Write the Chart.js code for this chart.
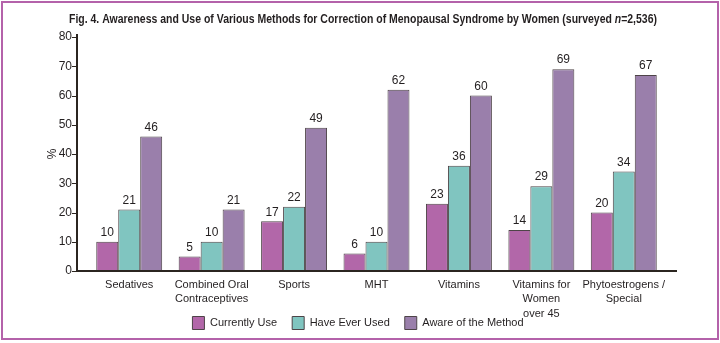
<!DOCTYPE html>
<html>
<head>
<meta charset="utf-8">
<script src="https://cdn.jsdelivr.net/npm/chart.js@4.4.1/dist/chart.umd.min.js"></script>
<style>
  html, body { margin: 0; padding: 0; background: #fff; }
  #wrap { position: relative; width: 720px; height: 343px; }
  #frame { position: absolute; left: 1px; top: 1px; width: 718px; height: 339px; box-sizing: border-box; border: 2px solid #b462aa; }
  canvas { position: absolute; left: 0; top: 0; }
</style>
</head>
<body>
<div id="wrap">
  <div id="frame"></div>
  <canvas id="chart" width="720" height="343"></canvas>
</div>
<script>
// Categories (multi-line labels as arrays)
const categories = [
    'Sedatives',
    ['Combined Oral', 'Contraceptives'],
    'Sports',
    'MHT',
    'Vitamins',
    ['Vitamins for', 'Women', 'over 45'],
    ['Phytoestrogens /', 'Special']
];

// Series values, %
const currentlyUse = [10, 5, 17, 6, 23, 14, 20];
const haveEverUsed = [21, 10, 22, 10, 36, 29, 34];
const awareOfMethod = [46, 21, 49, 62, 60, 69, 67];

// Y axis ticks
const yTicks = [0, 10, 20, 30, 40, 50, 60, 70, 80];

const FONT = "'Liberation Sans', Arial, sans-serif";
const TEXT = '#231f20';
const AXIS = '#2b2520';

// Title with italic n; the source face is condensed, so squeeze it to width
const titlePlugin = {
    id: 'figTitle',
    afterDraw(chart) {
        const ctx = chart.ctx;
        const parts = [
            ['Fig. 4. Awareness and Use of Various Methods for Correction of Menopausal Syndrome by Women (surveyed ', 'bold'],
            ['n', 'italic bold'],
            ['=2,536)', 'bold']
        ];
        ctx.save();
        let total = 0;
        parts.forEach(p => {
            ctx.font = p[1] + ' 12.5px ' + FONT;
            total += ctx.measureText(p[0]).width;
        });
        const k = 588 / total;
        ctx.translate(363 - 294, 20);
        ctx.scale(k, 1);
        ctx.fillStyle = TEXT;
        ctx.textBaseline = 'middle';
        let x = 0;
        parts.forEach(p => {
            ctx.font = p[1] + ' 12.5px ' + FONT;
            ctx.fillText(p[0], x, 0);
            x += ctx.measureText(p[0]).width;
        });
        ctx.restore();
    }
};

// Axis lines sit a little outside the category area
const axesPlugin = {
    id: 'axesLines',
    afterDatasetsDraw(chart) {
        const ctx = chart.ctx;
        const area = chart.chartArea;
        const y = chart.scales.y;
        const x0 = area.left - 11;
        ctx.save();
        ctx.strokeStyle = AXIS;
        ctx.lineWidth = 2;
        ctx.beginPath();
        ctx.moveTo(x0, area.top - 3);
        ctx.lineTo(x0, area.bottom + 1);
        ctx.moveTo(x0 - 1, area.bottom);
        ctx.lineTo(area.right + 12, area.bottom);
        ctx.stroke();
        ctx.lineWidth = 1;
        ctx.beginPath();
        yTicks.forEach(v => {
            const py = Math.round(y.getPixelForValue(v)) + 0.5;
            ctx.moveTo(x0 - 5, py);
            ctx.lineTo(x0, py);
        });
        ctx.stroke();
        ctx.restore();
    }
};

// Value labels above bars
const valueLabels = {
    id: 'valueLabels',
    afterDatasetsDraw(chart) {
        const ctx = chart.ctx;
        ctx.save();
        ctx.font = '12px ' + FONT;
        ctx.fillStyle = TEXT;
        ctx.textAlign = 'center';
        ctx.textBaseline = 'bottom';
        chart.data.datasets.forEach((ds, i) => {
            chart.getDatasetMeta(i).data.forEach((bar, j) => {
                ctx.fillText(ds.data[j], bar.x, bar.y - 3);
            });
        });
        ctx.restore();
    }
};

// Legend sits just under the tick labels, centred on the page
const legendPlace = {
    id: 'legendPlace',
    afterLayout(chart) {
        const lg = chart.legend;
        const h = lg.bottom - lg.top;
        lg.top = 316.5 - lg.options.labels.padding;
        lg.bottom = lg.top + h;
        lg.left = 0;
        lg.right = 716;
        lg.width = 716;
        lg.adjustHitBoxes();
    }
};

const data = {
    labels: categories,
    datasets: [
        {
            label: 'Currently Use',
            data: currentlyUse,
            backgroundColor: '#b267a9',
            borderColor: '#4e4448',
            borderWidth: 1
        },
        {
            label: 'Have Ever Used',
            data: haveEverUsed,
            backgroundColor: '#80c5c0',
            borderColor: '#4e4448',
            borderWidth: 1
        },
        {
            label: 'Aware of the Method',
            data: awareOfMethod,
            backgroundColor: '#9a7fab',
            borderColor: '#4e4448',
            borderWidth: 1
        }
    ]
};

const config = {
    type: 'bar',
    data: data,
    options: {
        responsive: false,
        animation: false,
        categoryPercentage: 0.8,
        barPercentage: 1.0,
        layout: {
            padding: { top: 37, right: 55, bottom: -18, left: 0 }
        },
        scales: {
            x: {
                grid: { display: false, drawTicks: false },
                border: { display: false },
                ticks: {
                    color: TEXT,
                    font: { family: FONT, size: 11, lineHeight: 1.36 },
                    padding: 6,
                    maxRotation: 0,
                    autoSkip: false
                },
                afterFit(scale) { scale.height = 52; }
            },
            y: {
                min: 0,
                max: 80,
                grid: { display: false, drawTicks: false },
                border: { display: false },
                ticks: {
                    stepSize: 10,
                    color: TEXT,
                    font: { family: FONT, size: 12 },
                    padding: 16
                },
                title: {
                    display: true,
                    text: '%',
                    color: TEXT,
                    font: { family: FONT, size: 12 },
                    padding: { top: 45, bottom: 0 }
                },
                afterFit(scale) { scale.width = 88; }
            }
        },
        plugins: {
            legend: {
                position: 'bottom',
                labels: {
                    color: TEXT,
                    font: { family: FONT, size: 11 },
                    boxWidth: 12,
                    boxHeight: 13,
                    padding: 15
                }
            },
            title: { display: false },
            tooltip: { enabled: false }
        }
    },
    plugins: [titlePlugin, axesPlugin, valueLabels, legendPlace]
};

const menoChart = new Chart(document.getElementById('chart'), config);
</script>
</body>
</html>
